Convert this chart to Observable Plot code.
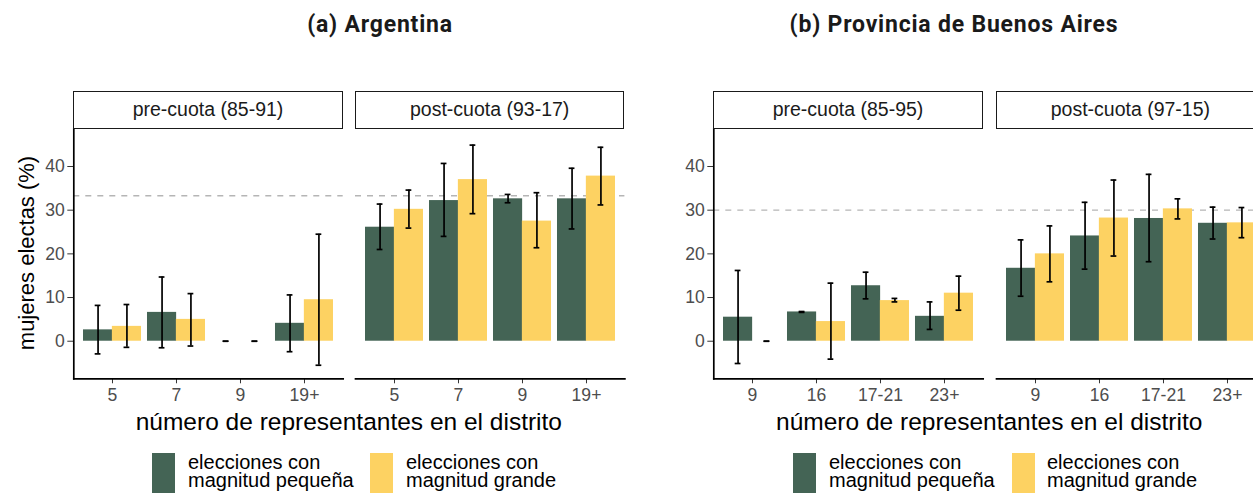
<!DOCTYPE html>
<html>
<head>
<meta charset="utf-8">
<script src="https://cdn.jsdelivr.net/npm/d3@7"></script>
<script src="https://cdn.jsdelivr.net/npm/@observablehq/plot@0.6"></script>
<style>
  html, body { margin: 0; padding: 0; background: #fff; }
  #page { position: relative; width: 1253px; height: 493px; overflow: hidden; background: #fff;
          font-family: "Liberation Sans", Arial, Helvetica, sans-serif; }
  .title { position: absolute; top: 11px; font-family: Roboto, "Open Sans", sans-serif; font-weight: 700;
           font-size: 23px; letter-spacing: 0.8px; color: #1a1a1a; transform: translateX(-50%); white-space: nowrap; }
  .strip { position: absolute; box-sizing: border-box; border: 1.7px solid #1a1a1a; background: #fff;
           display: flex; align-items: center; justify-content: center; font-size: 19.5px; color: #1a1a1a; }
  .xtitle { position: absolute; font-size: 24.5px; color: #000; transform: translateX(-50%); white-space: nowrap; }
  .ytitle { position: absolute; font-size: 22px; color: #000; white-space: nowrap;
            transform: translate(-50%, -50%) rotate(-90deg); }
  .panel { position: absolute; }
  .panel svg { overflow: visible; max-width: none !important; }
  .key { position: absolute; width: 23px; height: 42px; }
  .ltext { position: absolute; font-size: 20px; line-height: 18px; color: #000; white-space: pre-line; }
</style>
</head>
<body>
<div id="page"></div>
<script>
// ---------------- data ----------------
const groups = ["elecciones con magnitud pequeña", "elecciones con magnitud grande"];
const colors = ["#446455", "#FDD262"];

// (a) Argentina
const argTitle = "(a) Argentina";
const argPeriods = ["pre-cuota (85-91)", "post-cuota (93-17)"];
const argCats = ["5", "7", "9", "19+"];
const argRef = 33.3;
const argPreSmall = [2.6, 6.6, 0, 4.1];
const argPreSmallLo = [-2.9, -1.5, 0, -2.4];
const argPreSmallHi = [8.2, 14.7, 0, 10.6];
const argPreLarge = [3.4, 5.0, 0, 9.5];
const argPreLargeLo = [-1.4, -1.1, 0, -5.5];
const argPreLargeHi = [8.4, 10.9, 0, 24.5];
const argPostSmall = [26.1, 32.2, 32.6, 32.6];
const argPostSmallLo = [21.0, 24.0, 31.7, 25.7];
const argPostSmallHi = [31.4, 40.7, 33.6, 39.6];
const argPostLarge = [30.2, 37.0, 27.5, 37.8];
const argPostLargeLo = [25.9, 29.2, 21.4, 31.2];
const argPostLargeHi = [34.6, 44.9, 34.0, 44.4];

// (b) Provincia de Buenos Aires
const pbaTitle = "(b) Provincia de Buenos Aires";
const pbaPeriods = ["pre-cuota (85-95)", "post-cuota (97-15)"];
const pbaCats = ["9", "16", "17-21", "23+"];
const pbaRef = 30;
const pbaPreSmall = [5.5, 6.7, 12.7, 5.7];
const pbaPreSmallLo = [-5.1, 6.6, 9.7, 2.7];
const pbaPreSmallHi = [16.2, 6.8, 15.8, 9.0];
const pbaPreLarge = [0, 4.5, 9.3, 11.0];
const pbaPreLargeLo = [0, -4.1, 9.0, 7.1];
const pbaPreLargeHi = [0, 13.3, 9.8, 14.9];
const pbaPostSmall = [16.7, 24.1, 28.1, 27.0];
const pbaPostSmallLo = [10.3, 16.5, 18.2, 23.4];
const pbaPostSmallHi = [23.2, 31.8, 38.2, 30.7];
const pbaPostLarge = [20.0, 28.2, 30.3, 27.1];
const pbaPostLargeLo = [13.6, 19.5, 28.0, 23.7];
const pbaPostLargeHi = [26.4, 36.9, 32.6, 30.6];

const yTicks = [0, 10, 20, 30, 40];
const yLabel = "mujeres electas (%)";
const xLabel = "número de representantes en el distrito";
const legendLabels = ["elecciones con\nmagnitud pequeña", "elecciones con\nmagnitud grande"];

// ---------------- layout ----------------
const page = document.getElementById("page");
const PW = 269.4;          // panel width
const areaTop = 128, areaBottom = 378.3;
const yDomain = [-8.6, 48.7];

function rowsOf(cats, v, lo, hi) {
  return cats.map((c, i) => ({cat: c, v: v[i], lo: lo[i], hi: hi[i]}));
}

function panel({cats, small, large, ref, showY, areaLeft, period}) {
  const mL = showY ? 73.3 : 4, mT = 10, mB = 40;
  const step = PW / 4.2, bw = 0.9 * step, half = bw / 2, q = bw / 4, cap = 5.5;
  const marks = [
    Plot.ruleY([ref], {stroke: "#b5b5b5", strokeWidth: 1.3, strokeDasharray: "6,6"}),
    Plot.barY(small, {x: "cat", y: "v", fill: colors[0], insetRight: half}),
    Plot.barY(large, {x: "cat", y: "v", fill: colors[1], insetLeft: half}),
    Plot.ruleX(small, {x: "cat", y1: "lo", y2: "hi", dx: -q, stroke: "#000", strokeWidth: 1.7}),
    Plot.ruleX(large, {x: "cat", y1: "lo", y2: "hi", dx: q, stroke: "#000", strokeWidth: 1.7}),
  ];
  for (const [rows, c] of [[small, q], [large, 3 * q]]) {
    for (const f of ["lo", "hi"]) {
      marks.push(Plot.tickY(rows, {x: "cat", y: f, stroke: "#000", strokeWidth: 1.7,
        insetLeft: c - cap / 2, insetRight: bw - c - cap / 2}));
    }
  }
  marks.push(Plot.axisX({tickSize: 5, tickPadding: 5, fontSize: 17.6, fill: "#4d4d4d", stroke: "#333", label: null}));
  marks.push(Plot.frame({anchor: "bottom", stroke: "#000", strokeWidth: 1.7}));
  if (showY) {
    marks.push(Plot.axisY({ticks: yTicks, tickSize: 6, tickPadding: 3, fontSize: 17.6, fill: "#4d4d4d", stroke: "#333", label: null}));
    marks.push(Plot.frame({anchor: "left", stroke: "#000", strokeWidth: 1.7}));
  }
  const svg = Plot.plot({
    width: mL + PW, height: mT + (areaBottom - areaTop) + mB,
    marginLeft: mL, marginRight: 0, marginTop: mT, marginBottom: mB,
    x: {domain: cats, paddingInner: 0.1, paddingOuter: 0.15, axis: null},
    y: {domain: yDomain, axis: null},
    style: {fontFamily: '"Liberation Sans", Arial, sans-serif', background: "transparent"},
    marks
  });
  const div = document.createElement("div");
  div.className = "panel";
  div.style.left = (areaLeft - mL) + "px";
  div.style.top = (areaTop - mT) + "px";
  div.style.width = (mL + PW) + "px";
  div.appendChild(svg);
  page.appendChild(div);

  const strip = document.createElement("div");
  strip.className = "strip";
  strip.style.left = areaLeft + "px";
  strip.style.top = "91px";
  strip.style.width = PW + "px";
  strip.style.height = "37.5px";
  strip.textContent = period;
  page.appendChild(strip);
}

function chart({title, periods, cats, data, ref, left1, left2, titleX, legendKeys, legendTexts, yTitle}) {
  panel({cats, small: rowsOf(cats, ...data[0]), large: rowsOf(cats, ...data[1]), ref, showY: true, areaLeft: left1, period: periods[0]});
  panel({cats, small: rowsOf(cats, ...data[2]), large: rowsOf(cats, ...data[3]), ref, showY: false, areaLeft: left2, period: periods[1]});
  const t = document.createElement("div");
  t.className = "title"; t.style.left = titleX + "px"; t.textContent = title; page.appendChild(t);
  const xt = document.createElement("div");
  xt.className = "xtitle"; xt.style.left = ((left1 + left2 + PW) / 2) + "px"; xt.style.top = "408px";
  xt.textContent = xLabel; page.appendChild(xt);
  if (yTitle) {
    const yt = document.createElement("div");
    yt.className = "ytitle"; yt.style.left = "27px"; yt.style.top = ((areaTop + areaBottom) / 2) + "px";
    yt.textContent = yTitle; page.appendChild(yt);
  }
  groups.forEach((g, i) => {
    const k = document.createElement("div");
    k.className = "key"; k.style.left = legendKeys[i] + "px"; k.style.top = "452.5px"; k.style.background = colors[i];
    page.appendChild(k);
    const lt = document.createElement("div");
    lt.className = "ltext"; lt.style.left = legendTexts[i] + "px"; lt.style.top = "453px";
    lt.textContent = legendLabels[i];
    page.appendChild(lt);
  });
}

chart({title: argTitle, periods: argPeriods, cats: argCats, ref: argRef, yTitle: yLabel,
  data: [[argPreSmall, argPreSmallLo, argPreSmallHi], [argPreLarge, argPreLargeLo, argPreLargeHi],
         [argPostSmall, argPostSmallLo, argPostSmallHi], [argPostLarge, argPostLargeLo, argPostLargeHi]],
  left1: 73.3, left2: 355, titleX: 380, legendKeys: [152, 370], legendTexts: [188, 406]});
chart({title: pbaTitle, periods: pbaPeriods, cats: pbaCats, ref: pbaRef, yTitle: null,
  data: [[pbaPreSmall, pbaPreSmallLo, pbaPreSmallHi], [pbaPreLarge, pbaPreLargeLo, pbaPreLargeHi],
         [pbaPostSmall, pbaPostSmallLo, pbaPostSmallHi], [pbaPostLarge, pbaPostLargeLo, pbaPostLargeHi]],
  left1: 713.3, left2: 995.7, titleX: 954, legendKeys: [793, 1012], legendTexts: [829, 1047]});
</script>
</body>
</html>
